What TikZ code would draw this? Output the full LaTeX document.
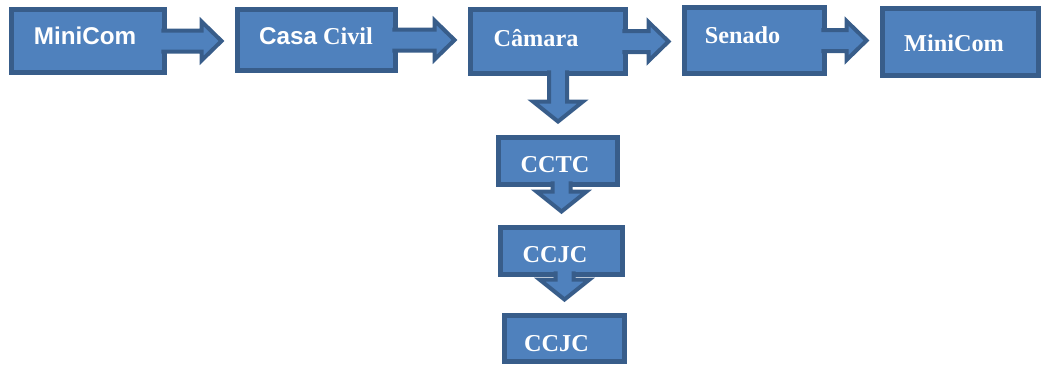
\documentclass[tikz,border=0pt]{standalone}
\usepackage{fontspec}
\setmainfont{Liberation Serif}
\newfontfamily\arialfont{Liberation Sans}
\usetikzlibrary{calc}

\definecolor{azulcaixa}{RGB}{79,129,189}
\definecolor{azulborda}{RGB}{56,93,138}

% 横向きの太い矢印
\newcommand{\hflow}[2]{%
  \filldraw[seta] ($(#1.east)+(-3,-10.5)$) -- ($(#2.west |- #1.east)+(-36,-10.5)$)
    -- ($(#2.west |- #1.east)+(-36,-19.5)$) -- ($(#2.west |- #1.east)+(-16,0)$)
    -- ($(#2.west |- #1.east)+(-36,19.5)$) -- ($(#2.west |- #1.east)+(-36,10.5)$)
    -- ($(#1.east)+(-3,10.5)$);}
% 下向きの太い矢印
\newcommand{\vflow}[2]{%
  \filldraw[seta] ($(#2.north |- #1.south)+(-9,-3)$) -- ($(#2.north)+(-9,-36)$)
    -- ($(#2.north)+(-25,-36)$) -- ($(#2.north)+(0,-16)$)
    -- ($(#2.north)+(25,-36)$) -- ($(#2.north)+(9,-36)$)
    -- ($(#2.north |- #1.south)+(9,-3)$);}

\begin{document}
\begin{tikzpicture}[x=0.02cm, y=-0.02cm,
		caixa/.style={draw=azulborda, fill=azulcaixa, line width=0.1cm, outer sep=0pt, inner sep=0pt},
		seta/.style={draw=azulborda, fill=azulcaixa, line width=0.08cm},
		rotulo/.style={text=white, font=\fontsize{13.8}{16}\selectfont\bfseries, inner sep=0pt, text height=9.5pt, text depth=0pt}]
		\useasboundingbox (0, 0) rectangle (1044, 365);

		% 上の段の箱
		\node[caixa, minimum width=3.06cm, minimum height=1.26cm] (m1) at (88, 41) {};
		\node[caixa, minimum width=3.16cm, minimum height=1.22cm] (casa) at (316.5, 40) {};
		\node[caixa, minimum width=3.10cm, minimum height=1.28cm] (camara) at (548, 41.5) {};
		\node[caixa, minimum width=2.80cm, minimum height=1.32cm] (senado) at (754.5, 40.5) {};
		\node[caixa, minimum width=3.12cm, minimum height=1.34cm] (m2) at (960.5, 42) {};

		% 下の列の箱
		\node[caixa, minimum width=2.38cm, minimum height=0.94cm] (cctc) at (558, 161) {};
		\node[caixa, minimum width=2.44cm, minimum height=0.94cm] (ccjc1) at (561.5, 251) {};
		\node[caixa, minimum width=2.40cm, minimum height=0.92cm] (ccjc2) at (564.5, 338.5) {};

		% 矢印を描画
		\hflow{m1}{casa}
		\hflow{casa}{camara}
		\hflow{camara}{senado}
		\hflow{senado}{m2}
		\vflow{camara}{cctc}
		\vflow{cctc}{ccjc1}
		\vflow{ccjc1}{ccjc2}

		% 文字を描画
		\node[rotulo] (t-m1) at (85, 36.5) {\arialfont MiniCom};
		\node[rotulo] (t-casa) at (316, 36.5) {{\arialfont Casa} Civil};
		\node[rotulo] (t-camara) at (536, 38.5) {Câmara};
		\node[rotulo] (t-senado) at (742.5, 35) {Senado};
		\node[rotulo] (t-m2) at (954, 43.5) {MiniCom};
		\node[rotulo] (t-cctc) at (555, 164) {CCTC};
		\node[rotulo] (t-ccjc1) at (555, 254.5) {CCJC};
		\node[rotulo] (t-ccjc2) at (556.5, 343.5) {CCJC};
\end{tikzpicture}
\end{document}
